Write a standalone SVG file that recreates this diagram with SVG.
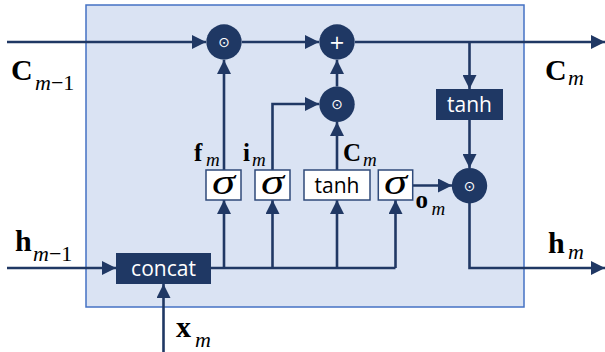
<svg xmlns="http://www.w3.org/2000/svg" width="605" height="352" viewBox="0 0 605 352">
<style>
.ln{fill:none;stroke:#203864;stroke-width:2.6}
.op{fill:#1F3864}
.sym{fill:#fff;font-family:"DejaVu Sans",sans-serif;text-anchor:middle}
.gate{fill:#fff;stroke:#2F4A7A;stroke-width:1.5}
.dk{fill:#1F3864}
.bt{font-family:"Open Sans",sans-serif;font-size:21px;text-anchor:middle}
.w{fill:#fff}
.k{fill:#000}
.sg{font-family:"Liberation Serif",serif;font-style:italic;font-size:36px;fill:#000}
.L{font-family:"Liberation Serif",serif;font-weight:bold;font-size:30px;fill:#000}
.Ls{font-family:"Liberation Serif",serif;font-weight:bold;font-size:25px;fill:#000}
.s{font-family:"Liberation Serif",serif;font-style:italic;font-size:22px;fill:#000}
.ss{font-family:"Liberation Serif",serif;font-style:italic;font-size:19px;fill:#000}
.r{font-style:normal}
</style>
<defs>
<marker id="ah" markerUnits="userSpaceOnUse" markerWidth="14" markerHeight="14" refX="14" refY="7" orient="auto">
<path d="M0,0 L14,7 L0,14 z" fill="#203864"/>
</marker>
</defs>
<rect id="cell" x="86" y="5" width="438" height="302" fill="#DAE3F3" stroke="#4472C4" stroke-width="1.5"/>
<g id="connectors">
<path class="ln" d="M7,42 H206" marker-end="url(#ah)"/>
<path class="ln" d="M242,42 H319" marker-end="url(#ah)"/>
<path class="ln" d="M355,42 H605" marker-end="url(#ah)"/>
<path class="ln" d="M469.5,42 V89" marker-end="url(#ah)"/>
<path class="ln" d="M469.5,120 V168" marker-end="url(#ah)"/>
<path class="ln" d="M469.5,203 V268 H605" marker-end="url(#ah)"/>
<path class="ln" d="M7,268 H116" marker-end="url(#ah)"/>
<path class="ln" d="M163.5,352 V284" marker-end="url(#ah)"/>
<path class="ln" d="M211,268 H395.5"/>
<path class="ln" d="M224,268 V200" marker-end="url(#ah)"/>
<path class="ln" d="M272.5,268 V200" marker-end="url(#ah)"/>
<path class="ln" d="M337,268 V200" marker-end="url(#ah)"/>
<path class="ln" d="M395.5,268 V200" marker-end="url(#ah)"/>
<path class="ln" d="M224,170 V60" marker-end="url(#ah)"/>
<path class="ln" d="M272.5,170 V104 H319" marker-end="url(#ah)"/>
<path class="ln" d="M337,170 V122" marker-end="url(#ah)"/>
<path class="ln" d="M337,86.5 V60" marker-end="url(#ah)"/>
<path class="ln" d="M412.7,185.5 H452" marker-end="url(#ah)"/>
</g>
<g id="mul-forget"><circle class="op" cx="224" cy="42" r="17.7"/><text class="sym" x="224" y="47" font-size="14">⊙</text></g>
<g id="add"><circle class="op" cx="337" cy="42" r="17.7"/><text class="sym" x="337" y="48.5" font-size="19">+</text></g>
<g id="mul-input"><circle class="op" cx="337" cy="104.3" r="17.7"/><text class="sym" x="337" y="109.3" font-size="14">⊙</text></g>
<g id="mul-output"><circle class="op" cx="469.5" cy="185.7" r="17.7"/><text class="sym" x="469.5" y="190.7" font-size="14">⊙</text></g>
<g id="tanh-out"><rect class="dk" x="436" y="89" width="67" height="31"/><text class="bt w" x="469.5" y="111.5">tanh</text></g>
<g id="concat"><rect class="dk" x="116" y="253" width="95" height="31"/><text class="bt w" x="163.5" y="275.5">concat</text></g>
<g id="sigma-f"><rect class="gate" x="206" y="170" width="35" height="30"/><text class="sg" x="212" y="194" textLength="23" lengthAdjust="spacingAndGlyphs">σ</text></g>
<g id="sigma-i"><rect class="gate" x="255" y="170" width="35" height="30"/><text class="sg" x="261" y="194" textLength="23" lengthAdjust="spacingAndGlyphs">σ</text></g>
<g id="tanh-c"><rect class="gate" x="304" y="170" width="66" height="30"/><text class="bt k" x="337" y="192.5">tanh</text></g>
<g id="sigma-o"><rect class="gate" x="378.3" y="170" width="34.4" height="30"/><text class="sg" x="384" y="194" textLength="23" lengthAdjust="spacingAndGlyphs">σ</text></g>
<g id="labels">
<text class="L" x="11" y="80">C</text><text class="s" x="35" y="90">m<tspan class="r">−1</tspan></text>
<text class="L" x="545" y="80">C</text><text class="s" x="568" y="85">m</text>
<text class="L" x="15" y="251">h</text><text class="s" x="33" y="261">m<tspan class="r">−1</tspan></text>
<text class="L" x="548" y="253">h</text><text class="s" x="568" y="259">m</text>
<text class="L" x="176" y="337" font-size="32">x</text><text class="s" x="195" y="347">m</text>
<text class="Ls" x="194" y="161">f</text><text class="ss" x="206" y="166">m</text>
<text class="Ls" x="243" y="161">i</text><text class="ss" x="252" y="166">m</text>
<text class="Ls" x="343" y="161">C</text><text class="ss" x="363" y="166">m</text>
<text class="Ls" x="415.5" y="208">o</text><text class="ss" x="431.5" y="215">m</text>
</g>
</svg>
